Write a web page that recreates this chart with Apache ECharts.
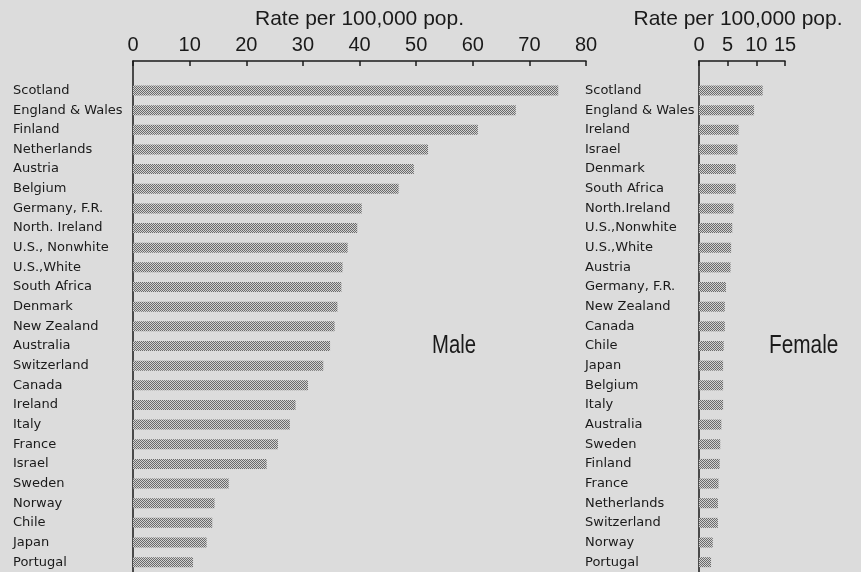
<!DOCTYPE html>
<html>
<head>
<meta charset="utf-8">
<script src="https://cdn.jsdelivr.net/npm/echarts@6/dist/echarts.min.js"></script>
<style>
html,body{margin:0;padding:0;background:#dcdcdc;}
#chart{width:861px;height:572px;}
</style>
</head>
<body>
<div id="chart"></div>
<script>
// ---- data ----
const maleCountries = ['Scotland','England & Wales','Finland','Netherlands','Austria','Belgium','Germany, F.R.','North. Ireland','U.S., Nonwhite','U.S.,White','South Africa','Denmark','New Zealand','Australia','Switzerland','Canada','Ireland','Italy','France','Israel','Sweden','Norway','Chile','Japan','Portugal'];
const maleRates = [75.1, 67.6, 60.9, 52.1, 49.6, 46.9, 40.4, 39.6, 37.9, 37.0, 36.8, 36.1, 35.6, 34.8, 33.6, 30.9, 28.7, 27.7, 25.6, 23.6, 16.9, 14.4, 14.0, 13.0, 10.6];
const femaleCountries = ['Scotland','England & Wales','Ireland','Israel','Denmark','South Africa','North.Ireland','U.S.,Nonwhite','U.S.,White','Austria','Germany, F.R.','New Zealand','Canada','Chile','Japan','Belgium','Italy','Australia','Sweden','Finland','France','Netherlands','Switzerland','Norway','Portugal'];
const femaleRates = [11.1, 9.6, 6.9, 6.7, 6.4, 6.4, 6.0, 5.8, 5.6, 5.5, 4.7, 4.5, 4.5, 4.3, 4.2, 4.2, 4.2, 3.9, 3.7, 3.6, 3.4, 3.3, 3.3, 2.4, 2.1];
const maleTicks = {min: 0, max: 80, interval: 10};
const femaleTicks = {min: 0, max: 15, interval: 5};
const axisTitle = 'Rate per 100,000 pop.';

// stipple pattern
const pc = document.createElement('canvas');
pc.width = 2; pc.height = 2;
const pctx = pc.getContext('2d');
pctx.fillStyle = '#d2d2d2'; pctx.fillRect(0,0,2,2);
pctx.fillStyle = '#6a6a6a'; pctx.fillRect(0,0,1,1); pctx.fillRect(1,1,1,1);
const stipple = {image: pc, repeat: 'repeat'};

const ink = '#1a1a1a';
function xAx(gi, t, namePad) {
  return {
    gridIndex: gi, type: 'value', position: 'top',
    min: t.min, max: t.max, interval: t.interval,
    name: axisTitle, nameLocation: 'middle', nameGap: 30,
    nameTextStyle: {fontFamily: 'Liberation Sans', fontSize: 21, color: ink, padding: namePad},
    axisLine: {show: true, lineStyle: {color: ink, width: 1.5}},
    axisTick: {show: true, inside: true, length: 5, lineStyle: {color: ink, width: 1.5}},
    axisLabel: {fontFamily: 'Liberation Sans', fontSize: 20, color: ink, margin: 6},
    splitLine: {show: false}
  };
}
function yAx(gi, cats, margin) {
  return {
    gridIndex: gi, type: 'category', inverse: true,
    data: [''].concat(cats),
    axisLine: {show: true, lineStyle: {color: ink, width: 1.5}},
    axisTick: {show: false},
    axisLabel: {align: 'left', margin: margin, fontFamily: 'DejaVu Sans', fontSize: 13, color: ink, interval: 0}
  };
}

const chart = echarts.init(document.getElementById('chart'));
chart.setOption({
  backgroundColor: '#dcdcdc',
  animation: false,
  grid: [
    {left: 133, width: 453, top: 61, height: 511.5},
    {left: 699, width: 86, top: 61, height: 511.5}
  ],
  xAxis: [xAx(0, maleTicks, [0, 0, 0, 0]), xAx(1, femaleTicks, [0, 8, 0, 0])],
  yAxis: [yAx(0, maleCountries, 120), yAx(1, femaleCountries, 114)],
  series: [
    {type: 'bar', xAxisIndex: 0, yAxisIndex: 0, barWidth: 10,
     data: ['-'].concat(maleRates), itemStyle: {color: stipple}},
    {type: 'bar', xAxisIndex: 1, yAxisIndex: 1, barWidth: 10,
     data: ['-'].concat(femaleRates), itemStyle: {color: stipple}}
  ],
  graphic: [
    {type: 'text', left: 432, top: 333, scaleX: 0.78,
     style: {text: 'Male', font: '26px "Liberation Sans"', fill: ink}},
    {type: 'text', left: 769, top: 333, scaleX: 0.8,
     style: {text: 'Female', font: '26px "Liberation Sans"', fill: ink}}
  ]
});
</script>
</body>
</html>
